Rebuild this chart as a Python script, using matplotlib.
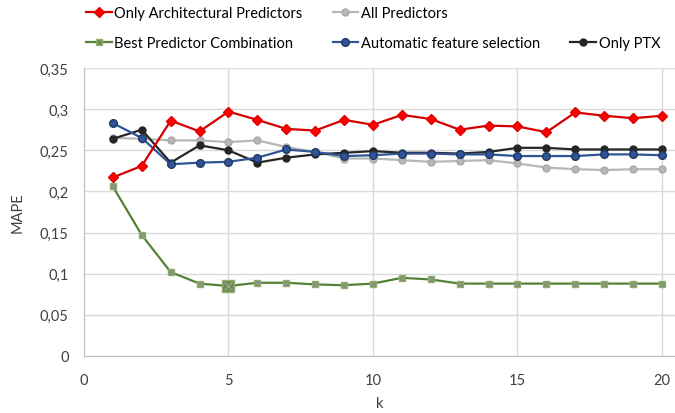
import matplotlib
matplotlib.use("Agg")
import matplotlib.pyplot as plt
from matplotlib.lines import Line2D
from matplotlib.ticker import FuncFormatter

plt.rcParams["font.family"] = ["Lato", "DejaVu Sans"]

k = list(range(1, 21))
only_arch = [0.217, 0.231, 0.286, 0.273, 0.297, 0.287, 0.276, 0.274, 0.287, 0.281,
             0.293, 0.288, 0.275, 0.280, 0.279, 0.272, 0.296, 0.292, 0.289, 0.292]
all_pred = [0.265, 0.264, 0.262, 0.262, 0.260, 0.262, 0.254, 0.248, 0.240, 0.240,
            0.238, 0.236, 0.237, 0.238, 0.234, 0.229, 0.227, 0.226, 0.227, 0.227]
best_comb = [0.206, 0.147, 0.102, 0.088, 0.085, 0.089, 0.089, 0.087, 0.086, 0.088,
             0.095, 0.093, 0.088, 0.088, 0.088, 0.088, 0.088, 0.088, 0.088, 0.088]
auto_sel = [0.283, 0.265, 0.233, 0.235, 0.236, 0.241, 0.251, 0.248, 0.243, 0.244,
            0.246, 0.246, 0.245, 0.245, 0.243, 0.243, 0.243, 0.245, 0.245, 0.244]
only_ptx = [0.264, 0.275, 0.235, 0.256, 0.250, 0.235, 0.241, 0.245, 0.247, 0.249,
            0.247, 0.247, 0.246, 0.248, 0.253, 0.253, 0.251, 0.251, 0.251, 0.251]

fig = plt.figure(figsize=(6.75, 4.14), dpi=100)
ax = fig.add_axes([0.1244, 0.1377, 0.8756, 0.6956])

lw = 1.6
ax.plot(k, all_pred, color="#b7b7b7", lw=lw, marker="o", ms=5,
        mfc="#b7b7b7", mec="#a9a9a9", label="All Predictors", zorder=3)
ax.plot(k, best_comb, color="#548235", lw=lw, marker="s", ms=5,
        mfc="#6b8f4a", mec="#8fac72", label="Best Predictor Combination", zorder=3)
ax.plot(k, best_comb, ls="none", marker="x", ms=3, mew=0.8, mec="#9a9a9a", zorder=4)
ax.plot([k[4]], [best_comb[4]], ls="none", marker="s", ms=8.5,
        mfc="#6b8f4a", mec="#8fac72", zorder=5)
ax.plot([k[4]], [best_comb[4]], ls="none", marker="x", ms=6, mew=1,
        mec="#9a9a9a", zorder=6)
ax.plot(k, only_ptx, color="#262626", lw=lw, marker="o", ms=5,
        mfc="#262626", mec="#262626", label="Only PTX", zorder=3)
ax.plot(k, auto_sel, color="#2f5597", lw=lw, marker="o", ms=5.5,
        mfc="#2f5597", mec="#1f3864", label="Automatic feature selection", zorder=3)
ax.plot(k, only_arch, color="#d40000", lw=lw, marker="D", ms=5,
        mfc="#ff0000", mec="#e00000", label="Only Architectural Predictors", zorder=3)

ax.set_xlim(0, 20.45)
ax.set_ylim(0, 0.35)
ax.set_xticks([0, 5, 10, 15, 20])
ax.set_yticks([0, 0.05, 0.1, 0.15, 0.2, 0.25, 0.3, 0.35])
ax.yaxis.set_major_formatter(FuncFormatter(
    lambda v, p: ("%.2f" % v).rstrip("0").rstrip(".").replace(".", ",") if v else "0"))
ax.grid(True, color="#d9d9d9", lw=1)
ax.set_axisbelow(True)
for s in ["top", "right"]:
    ax.spines[s].set_visible(False)
for s in ["left", "bottom"]:
    ax.spines[s].set_color("#bfbfbf")
ax.tick_params(axis="y", length=0, labelsize=10.5, colors="#404040", pad=11)
ax.tick_params(axis="x", length=0, labelsize=10.5, colors="#404040", pad=12)
ax.set_xlabel("k", fontsize=10.5, color="#404040", labelpad=7)
ax.set_ylabel("MAPE", fontsize=10.5, color="#404040", labelpad=11)

h = {l.get_label(): l for l in ax.get_lines()}
grn = Line2D([], [], color="#548235", lw=lw, marker="s", ms=5,
             mfc="#6b8f4a", mec="#8fac72")
blank = Line2D([], [], color="none")
handles = [h["Only Architectural Predictors"], grn,
           h["All Predictors"], h["Automatic feature selection"],
           blank, h["Only PTX"]]
labels = ["Only Architectural Predictors", "Best Predictor Combination",
          "All Predictors", "Automatic feature selection", "", "Only PTX"]
fig.legend(handles, labels, ncol=3, loc="upper left", bbox_to_anchor=(0.108, 1.015),
           frameon=False, fontsize=10.5, handlelength=1.75, handletextpad=0.2,
           columnspacing=2.05, labelspacing=1.1, labelcolor="#000000")

fig.savefig("out.png", dpi=100)
